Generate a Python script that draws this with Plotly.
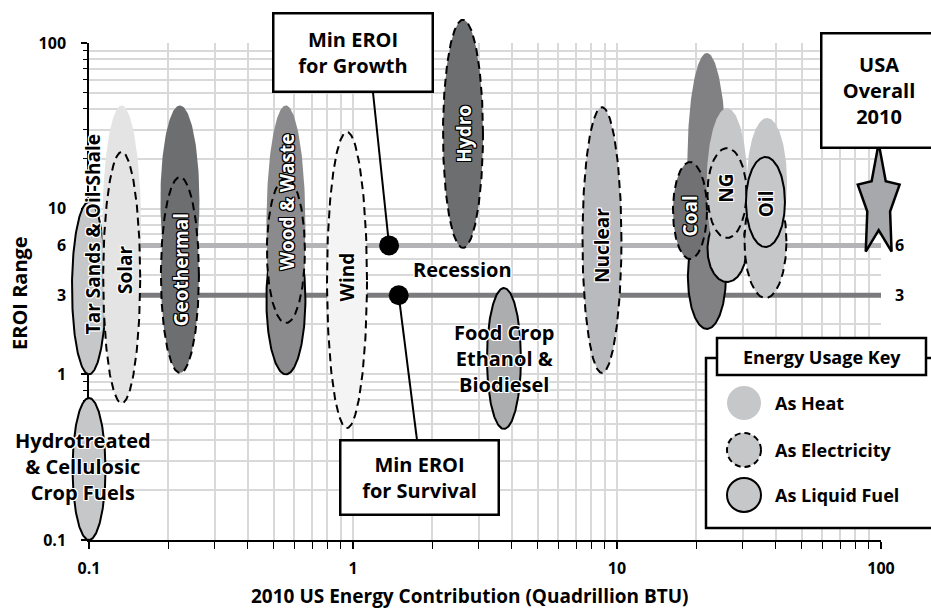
import numpy as np
import plotly.graph_objects as go

# ---------------- data ----------------
# energy source, usage type, 2010 US contribution (quads), EROI low, EROI high
src = ["Tar Sands & Oil-Shale", "Hydrotreated & Cellulosic Crop Fuels",
       "Solar", "Solar", "Geothermal", "Geothermal",
       "Wood & Waste", "Wood & Waste", "Wood & Waste",
       "Wind", "Hydro", "Food Crop Ethanol & Biodiesel", "Nuclear",
       "Coal", "Coal", "NG", "NG", "Coal", "NG", "Oil", "Oil", "Oil"]
use = ["liquid", "liquid",
       "heat", "elec", "heat", "elec",
       "liquid", "heat", "elec",
       "elec", "elec", "liquid", "elec",
       "liquid", "heat", "liquid", "heat", "elec", "elec", "elec", "heat", "liquid"]
contrib = [0.1, 0.1,
           0.133, 0.133, 0.221, 0.221,
           0.557, 0.557, 0.557,
           0.949, 2.61, 3.73, 8.77,
           21.9, 21.9, 26.1, 26.1, 18.9, 26.1, 36.5, 37.0, 36.5]
eroi_lo = [1.0, 0.1,
           1.3, 0.67, 3.0, 1.02,
           1.0, 1.5, 2.04,
           0.474, 5.8, 0.468, 1.02,
           1.88, 4.0, 3.61, 4.5, 4.97, 6.65, 2.89, 6.0, 5.87]
eroi_hi = [11.0, 0.72,
           42.0, 22.0, 42.0, 15.5,
           8.0, 42.0, 15.3,
           29.0, 138.0, 3.32, 41.0,
           8.0, 87.0, 9.0, 40.5, 19.1, 23.2, 14.0, 35.3, 20.5]

min_eroi_levels = [6, 3]          # growth, survival
min_eroi_names = ["Min EROI for Growth", "Min EROI for Survival"]
marker_contrib = [1.37, 1.49]
usa_contrib, usa_eroi = 98.0, 10.8

x_tick_vals = [0.1, 1, 10, 100]
x_tick_text = ["0.1", "1", "10", "100"]
y_tick_vals = [0.1, 1, 3, 6, 10, 100]
y_tick_text = ["0.1", "1", "3", "6", "10", "100"]

# ---------------- style ----------------
fills = ["#c6c7c9", "#c6c7c9",
         "#e4e4e5", "#e4e4e5", "#6d6e70", "#6d6e70",
         "#8b8b8d", "#8b8b8d", "#8b8b8d",
         "#f4f4f4", "#6d6e70", "#acadaf", "#b9babd",
         "#818183", "#818183", "#c6c7c9", "#c6c7c9", "#717173", "#c6c7c9",
         "#c6c7c9", "#c6c7c9", "#c6c7c9"]
half_w_px = [17, 16.5,
             19.5, 18.5, 19.5, 19,
             19.5, 19.5, 19,
             20, 20, 17, 19.5,
             19, 19.5, 19.5, 20.5, 17, 19.5, 21, 20, 19.5]
FONT = "Open Sans"
GRID = "#d9d9d9"

W, H = 931, 609
L, R, T, B = 89, 881, 43, 540
kx = 3 / (R - L)
ky = 3 / (B - T)
x2range = [-1 - L * kx, 2 + (W - R) * kx]
y2range = [-1 - (H - B) * ky, 2 + T * ky]


def px(x):
    return x / W


def py(y):
    return 1 - y / H


def ellipse(cx, lo, hi, hw, n=200):
    t = np.linspace(0, 2 * np.pi, n)
    lc = np.log10(cx)
    a = hw * kx
    l0, l1 = np.log10(lo), np.log10(hi)
    yc, b = (l0 + l1) / 2, (l1 - l0) / 2
    return 10 ** (lc + a * np.cos(t)), 10 ** (yc + b * np.sin(t))


fig = go.Figure()

# EROI threshold lines (main subplot, under everything)
for lvl, col in zip(min_eroi_levels, ["#b4b4b6", "#7b7b7d"]):
    fig.add_trace(go.Scatter(x=[x_tick_vals[0], x_tick_vals[-1]], y=[lvl, lvl],
                             mode="lines", line=dict(color=col, width=5),
                             hoverinfo="skip", showlegend=False))

# ellipses
for s, u, c, lo, hi, f, hw in zip(src, use, contrib, eroi_lo, eroi_hi, fills, half_w_px):
    ex, ey = ellipse(c, lo, hi, hw)
    if u == "heat":
        ln = dict(width=0, color=f)
    elif u == "elec":
        ln = dict(width=2, color="black", dash="8px,5px")
    else:
        ln = dict(width=2, color="black")
    fig.add_trace(go.Scatter(x=ex, y=ey, xaxis="x2", yaxis="y2", mode="lines",
                             fill="toself", fillcolor=f, line=ln, name=s,
                             hoverinfo="skip", showlegend=False))

# connectors from threshold dots to label boxes
conn_end = [(1.19, 50.6), (1.747, 0.402)]
for mx, lvl, (ex, ey) in zip(marker_contrib, min_eroi_levels, conn_end):
    fig.add_trace(go.Scatter(x=[mx, ex], y=[lvl, ey], xaxis="x2", yaxis="y2",
                             mode="lines", line=dict(color="black", width=2),
                             hoverinfo="skip", showlegend=False))
fig.add_trace(go.Scatter(x=marker_contrib, y=min_eroi_levels, xaxis="x2", yaxis="y2",
                         mode="markers", marker=dict(size=20, color="black"),
                         hoverinfo="skip", showlegend=False))

# USA overall star (elongated 5-point star built in log space)
ang = np.pi / 2 + np.arange(10) * np.pi / 5
rx = np.where(np.arange(10) % 2 == 0, 22, 12) * kx
ry = np.where(np.arange(10) % 2 == 0, 60, 27) * ky
sx = 10 ** (np.log10(usa_contrib) + rx * np.cos(ang))
sy = 10 ** (np.log10(usa_eroi) + ry * np.sin(ang))
fig.add_trace(go.Scatter(x=np.append(sx, sx[0]), y=np.append(sy, sy[0]),
                         xaxis="x2", yaxis="y2", mode="lines", fill="toself",
                         fillcolor="#a7a8ab", line=dict(color="black", width=2.5),
                         hoverinfo="skip", showlegend=False))

minor_vals = [m * 10.0 ** e for e in (-1, 0, 1) for m in range(2, 10)]
minor_y = [v for v in minor_vals if v not in (3, 6)]

bold = dict(family=FONT, size=16, color="black", weight="bold")

fig.update_layout(
    width=W, height=H, autosize=False,
    margin=dict(l=0, r=0, t=0, b=0),
    paper_bgcolor="white", plot_bgcolor="rgba(0,0,0,0)",
    showlegend=False,
    font=dict(family=FONT, color="black"),
    xaxis=dict(type="log", range=[-1, 2], domain=[px(L), px(R)], anchor="y",
               showline=True, linecolor="black", linewidth=1.5,
               ticks="outside", ticklen=7, tickwidth=1.5, tickcolor="black",
               tickvals=x_tick_vals, ticktext=x_tick_text, tickfont=bold,
               ticklabelstandoff=6,
               showgrid=True, gridcolor=GRID, gridwidth=1.5, zeroline=False,
               minor=dict(tickmode="array", tickvals=minor_vals, ticks="outside",
                          ticklen=7, tickwidth=1.2, tickcolor="black",
                          showgrid=True, gridcolor=GRID, gridwidth=1.5),
               automargin=False, fixedrange=True),
    yaxis=dict(type="log", range=[-1, 2], domain=[py(B), py(T)], anchor="x",
               showline=True, linecolor="black", linewidth=1.5,
               ticks="outside", ticklen=6, tickwidth=1.5, tickcolor="black",
               tickvals=y_tick_vals, ticktext=y_tick_text, tickfont=bold,
               ticklabelstandoff=12,
               showgrid=True, gridcolor=GRID, gridwidth=1.5, zeroline=False,
               minor=dict(tickmode="array", tickvals=minor_y, ticks="outside",
                          ticklen=4, tickwidth=1.2, tickcolor="black",
                          showgrid=True, gridcolor=GRID, gridwidth=1.5),
               automargin=False, fixedrange=True),
    xaxis2=dict(type="log", range=x2range, domain=[0, 1], anchor="y2",
                visible=False, fixedrange=True),
    yaxis2=dict(type="log", range=y2range, domain=[0, 1], anchor="x2",
                visible=False, fixedrange=True),
)

WHITE_HALO = ", ".join(f"{dx}px {dy}px 0 #fff" for dx in (-1, 0, 1) for dy in (-1, 0, 1) if dx or dy)
BLACK_HALO = ", ".join(f"{dx}px {dy}px 0 #000" for dx in (-1, 0, 1) for dy in (-1, 0, 1) if dx or dy)

ann = []


def label(text, x, y, white=False, angle=-90, size=19):
    ann.append(dict(text=text, x=np.log10(x), y=np.log10(y), xref="x2", yref="y2",
                    xanchor="center", yanchor="middle",
                    showarrow=False, textangle=angle,
                    font=dict(family=FONT, size=size, weight="bold",
                              color="white" if white else "black",
                              shadow=BLACK_HALO if white else WHITE_HALO)))


def note(text, x, y, size=20, **kw):
    d = dict(text=text, x=px(x), y=py(y), xref="paper", yref="paper",
             xanchor="center", yanchor="middle", showarrow=False,
             font=dict(family=FONT, size=size, weight="bold", color="black"))
    d.update(kw)
    ann.append(d)


label("Tar Sands & Oil-Shale", 0.1035, 7.0)
label("Solar", 0.137, 4.27)
label("Geothermal", 0.223, 4.3, white=True)
label("Wood & Waste", 0.56, 11.0, white=True)
label("Wind", 0.95, 3.85)
label("Hydro", 2.63, 28.3, white=True)
label("Nuclear", 8.77, 6.04)
label("Coal", 18.9, 9.1, white=True)
label("NG", 26.0, 13.3)
label("Oil", 36.5, 10.7)
label("Recession", 2.61, 4.27, angle=0, size=20)
label("Food Crop<br>Ethanol &<br>Biodiesel", 3.73, 1.24, angle=0, size=20)
label("Hydrotreated<br>& Cellulosic<br>Crop Fuels", 0.0953, 0.276, angle=0, size=20)

# axis titles
note("2010 US Energy Contribution (Quadrillion BTU)", 470, 596, size=19)
note("EROI Range", 19, 293, textangle=-90)

# right-hand level labels
for lvl in min_eroi_levels:
    ann.append(dict(text=str(lvl), x=px(893), y=np.log10(lvl), xref="paper", yref="y2",
                    xanchor="left", yanchor="middle", showarrow=False,
                    font=dict(family=FONT, size=16, weight="bold")))

# boxed labels
boxes = [("Min EROI<br>for Growth", 353, 52.5, 151, 70),
         ("Min EROI<br>for Survival", 419.5, 477.5, 150, 66),
         ("USA<br>Overall<br>2010", 879, 90.5, 107, 106)]
for text, cx, cy, bw, bh in boxes:
    note(text, cx, cy, width=bw, height=bh, borderpad=3,
         bordercolor="black", borderwidth=2.5, bgcolor="white")

# legend key
shapes = [
    dict(type="rect", xref="paper", yref="paper", x0=px(706), x1=px(945), y0=py(528), y1=py(358),
         line=dict(color="black", width=2.5), fillcolor="white", layer="above"),
    dict(type="rect", xref="paper", yref="paper", x0=px(717), x1=px(926), y0=py(375), y1=py(338),
         line=dict(color="black", width=2.5), fillcolor="white", layer="above"),
]
note("Energy Usage Key", 821.5, 357, size=18)
key_items = [("As Heat", 403, dict(width=0, color="#c6c7c9")),
             ("As Electricity", 450, dict(width=2, color="black", dash="6px,4px")),
             ("As Liquid Fuel", 495, dict(width=2, color="black"))]
for text, yc, ln in key_items:
    shapes.append(dict(type="circle", xref="paper", yref="paper",
                       x0=px(744 - 17), x1=px(744 + 17), y0=py(yc + 17), y1=py(yc - 17),
                       fillcolor="#c6c7c9", line=ln, layer="above"))
    note(text, 773, yc, size=18, xanchor="left")

fig.update_layout(annotations=ann, shapes=shapes)
fig.write_html("out.html", config={"displayModeBar": False},
               post_script="document.body.style.margin='0px';")
